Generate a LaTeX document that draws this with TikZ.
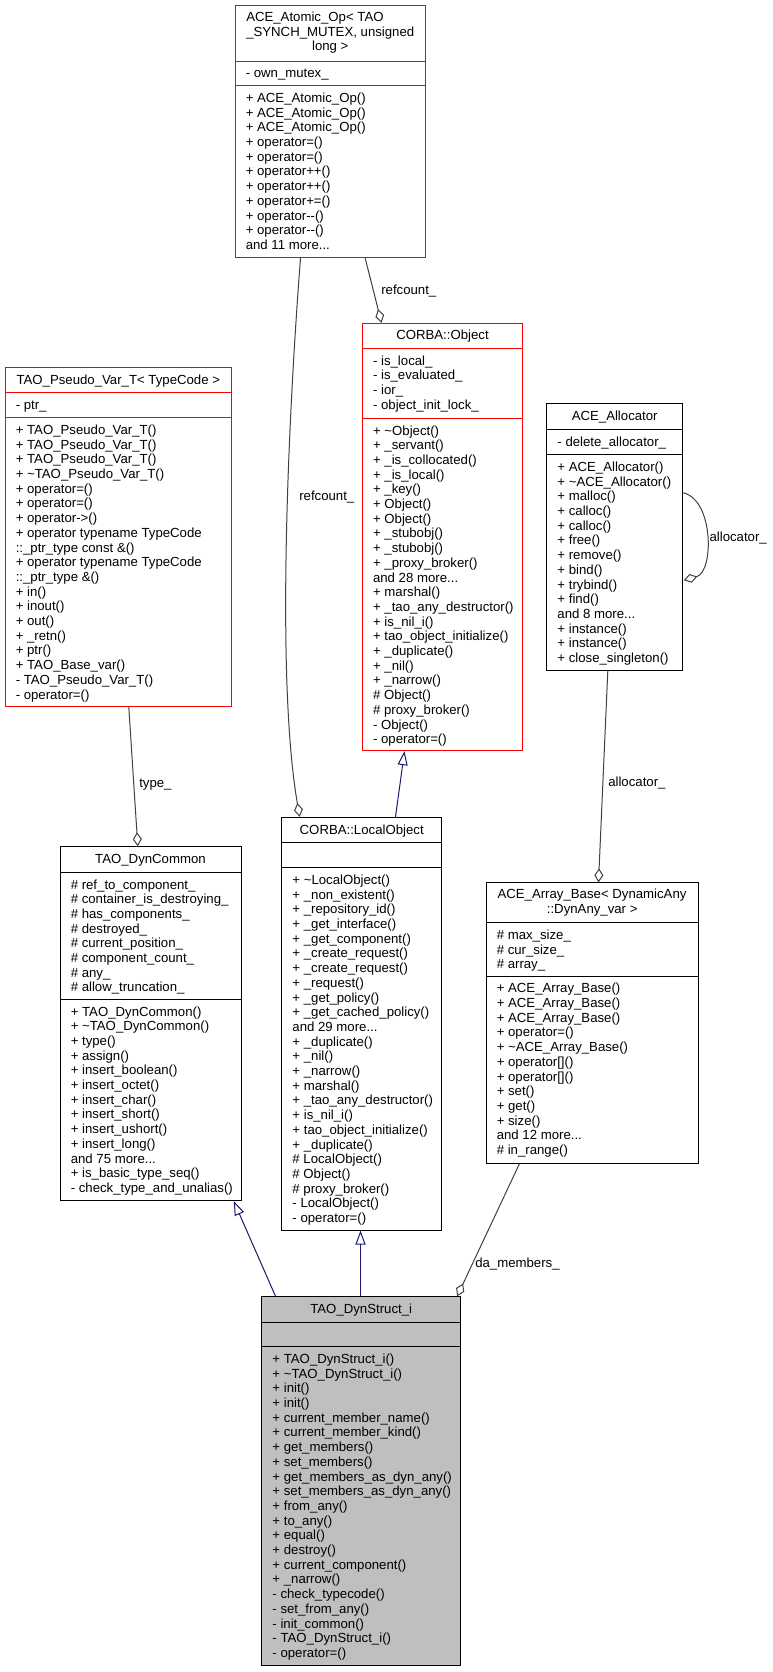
\documentclass[tikz,border=0pt]{standalone}
\usepackage{fontspec}
\setmainfont{Liberation Sans}
\usetikzlibrary{arrows.meta,fit,calc}
\definecolor{edgegrey}{HTML}{404040}
\definecolor{inhblue}{HTML}{191970}
\definecolor{fillgrey}{HTML}{BFBFBF}
\definecolor{boxred}{HTML}{FF0000}
\tikzset{
  cls/.style={draw=black, line width=0.75pt, inner sep=0pt},
  redcls/.style={cls, draw=boxred},
  txt/.style={font=\fontsize{9.9pt}{11pt}\selectfont, inner sep=0pt, anchor=base west},
  ttl/.style={font=\fontsize{9.9pt}{11pt}\selectfont, inner sep=0pt, anchor=base},
  usage/.style={draw=edgegrey, line width=0.75pt, -{Diamond[open, length=10.5pt, width=6.75pt]}},
  inherit/.style={draw=inhblue, line width=0.75pt, -{Triangle[open, length=10.5pt, width=7.5pt]}},
  sepline/.style={line width=0.75pt}
}
\newcommand\moredots{...}
\newcommand\memberlines[4]{%
  \foreach \mtext [count=\i from 0] in {#4} {
    \node[txt] (#1-\i) at (#2, {#3+16.7+14.7*\i}) {\mtext};
  }}
\begin{document}
\begin{tikzpicture}[x=0.75pt,y=-0.75pt]
\useasboundingbox (0,0) rectangle (773,1672);

% ---------- ACE_Atomic_Op
\node[redcls, fit={(235,5.7) (425.7,257.7)}] (atom) {};
\draw[sepline, boxred] (235,61) -- (425.7,61);
\draw[sepline, boxred] (235,85.7) -- (425.7,85.7);
\node[txt] (atomt1) at (246,21.4) {ACE\_Atomic\_Op< TAO};
\node[txt] (atomt2) at (246,36.1) {\_SYNCH\_MUTEX, unsigned};
\node[ttl] (atomt3) at (330.3,50.8) {long >};
\memberlines{atoma}{245.5}{61}{- own\_mutex\_}
\memberlines{atomm}{245.5}{85.7}{+ ACE\_Atomic\_Op(), + ACE\_Atomic\_Op(), + ACE\_Atomic\_Op(), + operator=(), + operator=(), + operator++(), + operator++(), + operator+=(), + operator-{}-(), + operator-{}-(), and 11 more\moredots}

% ---------- TAO_Pseudo_Var_T
\node[redcls, fit={(5,367.3) (231.7,706.7)}] (pseudo) {};
\draw[sepline, boxred] (5,392.7) -- (231.7,392.7);
\draw[sepline, boxred] (5,417.7) -- (231.7,417.7);
\node[ttl] (pseudot) at (118.3,384) {TAO\_Pseudo\_Var\_T< TypeCode >};
\memberlines{pseudoa}{15.5}{392.7}{- ptr\_}
\memberlines{pseudom}{15.5}{417.7}{+ TAO\_Pseudo\_Var\_T(), + TAO\_Pseudo\_Var\_T(), + TAO\_Pseudo\_Var\_T(), + \textasciitilde TAO\_Pseudo\_Var\_T(), + operator=(), + operator=(), + operator->(), + operator typename TypeCode, ::\_ptr\_type const \&(), + operator typename TypeCode, ::\_ptr\_type \&(), + in(), + inout(), + out(), + \_retn(), + ptr(), + TAO\_Base\_var(), - TAO\_Pseudo\_Var\_T(), - operator=()}

% ---------- CORBA::Object
\node[redcls, fit={(362.3,323.3) (522.7,750.7)}] (object) {};
\draw[sepline, boxred] (362.3,348.3) -- (522.7,348.3);
\draw[sepline, boxred] (362.3,418.3) -- (522.7,418.3);
\node[ttl] (objectt) at (442.5,339.8) {CORBA::Object};
\memberlines{objecta}{372.8}{348.3}{- is\_local\_, - is\_evaluated\_, - ior\_, - object\_init\_lock\_}
\memberlines{objectm}{372.8}{418.3}{+ \textasciitilde Object(), + \_servant(), + \_is\_collocated(), + \_is\_local(), + \_key(), + Object(), + Object(), + \_stubobj(), + \_stubobj(), + \_proxy\_broker(), and 28 more\moredots, + marshal(), + \_tao\_any\_destructor(), + is\_nil\_i(), + tao\_object\_initialize(), + \_duplicate(), + \_nil(), + \_narrow(), \# Object(), \# proxy\_broker(), - Object(), - operator=()}

% ---------- ACE_Allocator
\node[cls, fit={(546.7,403.3) (682.7,670.5)}] (alloc) {};
\draw[sepline] (546.7,429.3) -- (682.7,429.3);
\draw[sepline] (546.7,454.7) -- (682.7,454.7);
\node[ttl] (alloct) at (614.7,420.3) {ACE\_Allocator};
\memberlines{alloca}{557.2}{429.3}{- delete\_allocator\_}
\memberlines{allocm}{557.2}{454.7}{+ ACE\_Allocator(), + \textasciitilde ACE\_Allocator(), + malloc(), + calloc(), + calloc(), + free(), + remove(), + bind(), + trybind(), + find(), and 8 more\moredots, + instance(), + instance(), + close\_singleton()}

% ---------- TAO_DynCommon
\node[cls, fit={(60,846.7) (241,1200.7)}] (dyncommon) {};
\draw[sepline] (60,872.3) -- (241,872.3);
\draw[sepline] (60,999.3) -- (241,999.3);
\node[ttl] (dyncommont) at (150.5,863.5) {TAO\_DynCommon};
\memberlines{dyncommona}{70.5}{872.3}{\# ref\_to\_component\_, \# container\_is\_destroying\_, \# has\_components\_, \# destroyed\_, \# current\_position\_, \# component\_count\_, \# any\_, \# allow\_truncation\_}
\memberlines{dyncommonm}{70.5}{999.3}{+ TAO\_DynCommon(), + \textasciitilde TAO\_DynCommon(), + type(), + assign(), + insert\_boolean(), + insert\_octet(), + insert\_char(), + insert\_short(), + insert\_ushort(), + insert\_long(), and 75 more\moredots, + is\_basic\_type\_seq(), - check\_type\_and\_unalias()}

% ---------- CORBA::LocalObject
\node[cls, fit={(281.7,817.3) (441.7,1230)}] (localobj) {};
\draw[sepline] (281.7,842.7) -- (441.7,842.7);
\draw[sepline] (281.7,867.7) -- (441.7,867.7);
\node[ttl] (localobjt) at (361.7,834) {CORBA::LocalObject};
\memberlines{localobjm}{292.2}{867.7}{+ \textasciitilde LocalObject(), + \_non\_existent(), + \_repository\_id(), + \_get\_interface(), + \_get\_component(), + \_create\_request(), + \_create\_request(), + \_request(), + \_get\_policy(), + \_get\_cached\_policy(), and 29 more\moredots, + \_duplicate(), + \_nil(), + \_narrow(), + marshal(), + \_tao\_any\_destructor(), + is\_nil\_i(), + tao\_object\_initialize(), + \_duplicate(), \# LocalObject(), \# Object(), \# proxy\_broker(), - LocalObject(), - operator=()}

% ---------- ACE_Array_Base
\node[cls, fit={(486,882.8) (698.3,1163.1)}] (arraybase) {};
\draw[sepline] (486,922.7) -- (698.3,922.7);
\draw[sepline] (486,976.1) -- (698.3,976.1);
\node[txt] (arraybaset1) at (497.3,898.5) {ACE\_Array\_Base< DynamicAny};
\node[ttl] (arraybaset2) at (592.2,913.2) {::DynAny\_var >};
\memberlines{arraybasea}{496.5}{922.7}{\# max\_size\_, \# cur\_size\_, \# array\_}
\memberlines{arraybasem}{496.5}{976.1}{+ ACE\_Array\_Base(), + ACE\_Array\_Base(), + ACE\_Array\_Base(), + operator=(), + \textasciitilde ACE\_Array\_Base(), + operator[](), + operator[](), + set(), + get(), + size(), and 12 more\moredots, \# in\_range()}

% ---------- TAO_DynStruct_i
\node[cls, fill=fillgrey, fit={(261.7,1296.7) (460.7,1665)}] (dynstruct) {};
\draw[sepline] (261.7,1322.3) -- (460.7,1322.3);
\draw[sepline] (261.7,1346.7) -- (460.7,1346.7);
\node[ttl] (dynstructt) at (361.2,1313.5) {TAO\_DynStruct\_i};
\memberlines{dynstructm}{272.2}{1346.7}{+ TAO\_DynStruct\_i(), + \textasciitilde TAO\_DynStruct\_i(), + init(), + init(), + current\_member\_name(), + current\_member\_kind(), + get\_members(), + set\_members(), + get\_members\_as\_dyn\_any(), + set\_members\_as\_dyn\_any(), + from\_any(), + to\_any(), + equal(), + destroy(), + current\_component(), + \_narrow(), - check\_typecode(), - set\_from\_any(), - init\_common(), - TAO\_DynStruct\_i(), - operator=()}

% ---------- connectors
\draw[usage] ($(atom.south west)+(66,0)$) .. controls (288,420) and (276,680) .. ($(localobj.north west)+(18.5,0)$);
\node[txt] (lblrc1) at (299,500.5) {refcount\_};
\draw[usage] ($(atom.south west)+(130.7,0)$) -- ($(object.north west)+(19.7,0)$);
\node[txt] (lblrc2) at (381,294.7) {refcount\_};
\draw[usage] ($(pseudo.south west)+(124.3,0)$) -- ($(dyncommon.north west)+(78.3,0)$);
\node[txt] (lbltype) at (139,787.4) {type\_};
\draw[usage] ($(alloc.north east)+(0,90)$) .. controls (714,500) and (714,572) .. ($(alloc.north east)+(0.6,177.4)$);
\node[txt] (lblal1) at (709.3,541.4) {allocator\_};
\draw[usage] ($(alloc.south west)+(61.6,0)$) -- ($(arraybase.north west)+(113,0)$);
\node[txt] (lblal2) at (608,786.7) {allocator\_};
\draw[usage] ($(arraybase.south west)+(34,0)$) -- ($(dynstruct.north east)+(-4,0)$);
\node[txt] (lblda) at (475,1267.4) {da\_members\_};
\draw[inherit] ($(localobj.north west)+(114.3,0)$) -- ($(object.south west)+(42.7,0)$);
\draw[inherit] ($(dynstruct.north west)+(14.3,0)$) -- ($(dyncommon.south east)+(-7.7,0)$);
\draw[inherit] ($(dynstruct.north west)+(99.3,0)$) -- ($(localobj.south west)+(79.3,0)$);
\end{tikzpicture}
\end{document}
